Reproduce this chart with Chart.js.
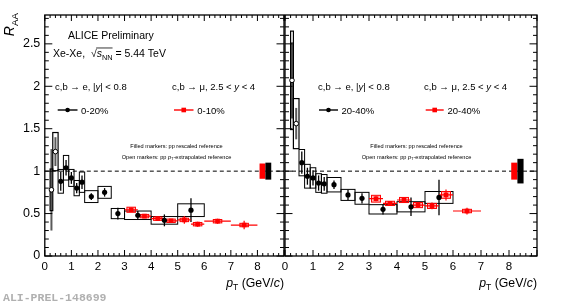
<!DOCTYPE html>
<html lang="en">
<head>
<meta charset="UTF-8" />
<title>RAA Xe-Xe</title>
<script src="https://cdn.jsdelivr.net/npm/chart.js@4.4.1/dist/chart.umd.min.js"></script>
<style>
  body { margin: 0; background: #fff; }
  #wrap { position: relative; width: 566px; height: 305px; }
  canvas { position: absolute; left: 0; top: 0; }
</style>
</head>
<body>
<div id="wrap">
  <canvas id="left" width="566" height="305"></canvas>
  <canvas id="right" width="566" height="305"></canvas>
</div>
<script>
// axis ticks
const xTickLabels = [0, 1, 2, 3, 4, 5, 6, 7, 8];
const yTickLabels = [0, 0.5, 1, 1.5, 2, 2.5];

// heavy-flavour electrons |y|<0.8, bins
const ePt = [0.6, 0.8, 1.0, 1.2, 1.4, 1.75, 2.25, 2.75, 3.5, 4.5, 5.5];
const eLo = [0.5, 0.7, 0.9, 1.1, 1.3, 1.5, 2.0, 2.5, 3.0, 4.0, 5.0];
const eHi = [0.7, 0.9, 1.1, 1.3, 1.5, 2.0, 2.5, 3.0, 4.0, 5.0, 6.0];
// low pT electrons (pT-extrapolated pp reference)
const eOpenPt = [0.25, 0.4];
const eOpenLo = [0.2, 0.3];
const eOpenHi = [0.3, 0.5];

// electrons 0-20%
const e020 = [0.88, 1.04, 0.92, 0.80, 0.87, 0.70, 0.75, 0.50, 0.48, 0.42, 0.54];
const e020Stat = [0.11, 0.09, 0.07, 0.06, 0.08, 0.04, 0.05, 0.07, 0.05, 0.07, 0.14];
const e020Sys = [0.14, 0.145, 0.10, 0.09, 0.12, 0.07, 0.07, 0.06, 0.05, 0.045, 0.075];
const e020Open = [0.78, 1.23];
const e020OpenStat = [0.48, 0.17];
const e020OpenSys = [0.245, 0.225];

// electrons 20-40%
const e2040 = [1.10, 0.94, 0.92, 0.86, 0.85, 0.84, 0.72, 0.68, 0.55, 0.58, 0.69];
const e2040Stat = [0.13, 0.10, 0.09, 0.09, 0.08, 0.05, 0.06, 0.06, 0.06, 0.11, 0.21];
const e2040Sys = [0.155, 0.14, 0.12, 0.11, 0.11, 0.085, 0.065, 0.07, 0.055, 0.06, 0.07];
const e2040Open = [2.07, 1.56];
const e2040OpenStat = [0.45, 0.185];
const e2040OpenSys = [0.58, 0.295];

// heavy-flavour muons 2.5<y<4
const muPt = [3.25, 3.75, 4.25, 4.75, 5.25, 5.75, 6.5, 7.5];
const muLo = [3.0, 3.5, 4.0, 4.5, 5.0, 5.5, 6.0, 7.0];
const muHi = [3.5, 4.0, 4.5, 5.0, 5.5, 6.0, 7.0, 8.0];
const mu010 = [0.545, 0.47, 0.44, 0.415, 0.425, 0.375, 0.41, 0.365];
const mu010Stat = [0.025, 0.02, 0.02, 0.02, 0.045, 0.03, 0.03, 0.05];
const mu010Sys = [0.03, 0.02, 0.02, 0.02, 0.02, 0.02, 0.02, 0.02];
const mu2040 = [0.675, 0.62, 0.66, 0.60, 0.59, 0.72, 0.53];
const mu2040Stat = [0.03, 0.02, 0.025, 0.03, 0.04, 0.065, 0.04];
const mu2040Sys = [0.04, 0.025, 0.03, 0.03, 0.03, 0.04, 0.02];

// normalisation uncertainties [left panel, right panel]
const normUncE = [0.10, 0.145];
const normUncMu = [0.09, 0.10];

const FONT = '"Liberation Sans", Arial, sans-serif';

function pts(xs, ys) { return xs.map((v, i) => ({ x: v, y: ys[i] })); }

// text with italic / subscript pieces
function rich(ctx, x, y, segs, size, align) {
  const parts = segs.map(([t, st]) => {
    st = st || {};
    const sz = st.sub ? size * 0.7 : size;
    const font = (st.i ? 'italic ' : '') + sz + 'px ' + FONT;
    ctx.font = font;
    return { t, st, font, w: ctx.measureText(t).width, dy: st.sub ? size * 0.28 : 0 };
  });
  const total = parts.reduce((s, p) => s + p.w, 0);
  let cx = align === 'right' ? x - total : align === 'center' ? x - total / 2 : x;
  let ox0 = null, ox1 = null;
  ctx.fillStyle = '#000';
  ctx.textBaseline = 'alphabetic';
  ctx.textAlign = 'left';
  for (const p of parts) {
    ctx.font = p.font;
    ctx.fillText(p.t, cx, y + p.dy);
    if (p.st.over) { if (ox0 === null) ox0 = cx; ox1 = cx + p.w; }
    cx += p.w;
  }
  if (ox0 !== null) {
    ctx.strokeStyle = '#000'; ctx.lineWidth = 0.8;
    ctx.beginPath(); ctx.moveTo(ox0 - 0.5, y - size * 0.86); ctx.lineTo(ox1, y - size * 0.86); ctx.stroke();
  }
  return total;
}

function drawFrame(chart) {
  const { ctx, chartArea: a, scales: { x, y } } = chart;
  ctx.save();
  ctx.strokeStyle = '#000';
  ctx.lineWidth = 1;
  ctx.beginPath();
  for (let i = 0; i <= 45; i++) {
    const px = x.getPixelForValue(i * 0.2);
    const L = i % 5 === 0 ? 6 : 3;
    ctx.moveTo(px, a.bottom); ctx.lineTo(px, a.bottom - L);
    ctx.moveTo(px, a.top); ctx.lineTo(px, a.top + L);
  }
  for (let i = 0; i * 0.1 <= y.max + 1e-6; i++) {
    const py = y.getPixelForValue(i * 0.1);
    const L = i % 5 === 0 ? 7.5 : 4;
    ctx.moveTo(a.left, py); ctx.lineTo(a.left + L, py);
    ctx.moveTo(a.right, py); ctx.lineTo(a.right - L, py);
  }
  ctx.stroke();
  ctx.lineWidth = 1.3;
  ctx.strokeRect(a.left, a.top, a.right - a.left, a.bottom - a.top);
  ctx.restore();
}

function makePlugin(panel) {
  return {
    id: 'rootStyle' + panel.side,
    beforeDatasetsDraw(chart) {
      const { ctx, chartArea: a, scales: { x, y } } = chart;
      ctx.save();
      // reference line
      ctx.strokeStyle = '#000'; ctx.lineWidth = 1; ctx.setLineDash([4, 3]);
      ctx.beginPath(); ctx.moveTo(a.left, y.getPixelForValue(1)); ctx.lineTo(a.right, y.getPixelForValue(1)); ctx.stroke();
      ctx.setLineDash([]);
      // normalisation boxes
      const k = panel.side === 'left' ? 0 : 1;
      ctx.fillStyle = '#ff0000';
      ctx.fillRect(x.getPixelForValue(8.08), y.getPixelForValue(1 + normUncMu[k]),
        x.getPixelForValue(8.3) - x.getPixelForValue(8.08), y.getPixelForValue(1 - normUncMu[k]) - y.getPixelForValue(1 + normUncMu[k]));
      ctx.fillStyle = '#000';
      ctx.fillRect(x.getPixelForValue(8.3), y.getPixelForValue(1 + normUncE[k]),
        x.getPixelForValue(8.52) - x.getPixelForValue(8.3), y.getPixelForValue(1 - normUncE[k]) - y.getPixelForValue(1 + normUncE[k]));

      chart.data.datasets.forEach(ds => {
        ds.data.forEach((p, i) => {
          const px = x.getPixelForValue(p.x);
          const yHi = y.getPixelForValue(p.y + ds.sys[i]);
          const yLo = y.getPixelForValue(p.y - ds.sys[i]);
          if (ds.kind === 'mu') {
            const bx0 = x.getPixelForValue(p.x - 0.16), bx1 = x.getPixelForValue(p.x + 0.16);
            ctx.fillStyle = 'rgba(255,0,0,0.25)';
            ctx.fillRect(bx0, yHi, bx1 - bx0, yLo - yHi);
            ctx.strokeStyle = '#ff0000'; ctx.lineWidth = 1;
            ctx.strokeRect(bx0, yHi, bx1 - bx0, yLo - yHi);
            ctx.lineWidth = 1.2;
            ctx.beginPath();
            ctx.moveTo(x.getPixelForValue(ds.lo[i]), y.getPixelForValue(p.y));
            ctx.lineTo(x.getPixelForValue(ds.hi[i]), y.getPixelForValue(p.y));
            ctx.moveTo(px, y.getPixelForValue(p.y - ds.stat[i]));
            ctx.lineTo(px, y.getPixelForValue(p.y + ds.stat[i]));
            ctx.stroke();
          } else {
            const bx0 = x.getPixelForValue(ds.lo[i]), bx1 = x.getPixelForValue(ds.hi[i]);
            ctx.strokeStyle = ds.kind === 'open' ? '#5a5a5a' : '#000';
            ctx.lineWidth = ds.kind === 'open' ? 2 : 1.3;
            ctx.beginPath();
            ctx.moveTo(px, y.getPixelForValue(Math.max(0, p.y - ds.stat[i])));
            ctx.lineTo(px, y.getPixelForValue(p.y + ds.stat[i]));
            ctx.stroke();
            ctx.strokeStyle = '#000'; ctx.lineWidth = ds.kind === 'open' ? 1.2 : 1;
            ctx.strokeRect(bx0, yHi, bx1 - bx0, yLo - yHi);
          }
        });
      });
      ctx.restore();
    },
    afterDraw(chart) {
      const { ctx } = chart;
      drawFrame(chart);
      ctx.save();
      const t = panel.text;
      rich(ctx, t.eX, 90, [['c,b \u2192 e, |'], ['y', { i: 1 }], ['| < 0.8']], 9.5);
      rich(ctx, t.muX, 90, [['c,b \u2192 \u03bc, 2.5 < '], ['y', { i: 1 }], [' < 4']], 9.5);
      // legend entries
      ctx.strokeStyle = '#000'; ctx.lineWidth = 1.4;
      ctx.beginPath(); ctx.moveTo(t.eLeg[0], 110); ctx.lineTo(t.eLeg[1], 110); ctx.stroke();
      ctx.fillStyle = '#000';
      ctx.beginPath(); ctx.arc((t.eLeg[0] + t.eLeg[1]) / 2, 110, 2.3, 0, Math.PI * 2); ctx.fill();
      rich(ctx, t.eLeg[1] + 3.5, 113.5, [[t.eLabel]], 9.5);
      ctx.strokeStyle = '#ff0000';
      ctx.beginPath(); ctx.moveTo(t.muLeg[0], 110); ctx.lineTo(t.muLeg[1], 110); ctx.stroke();
      ctx.fillStyle = '#ff0000';
      const mx = (t.muLeg[0] + t.muLeg[1]) / 2;
      ctx.fillRect(mx - 2.3, 107.7, 4.6, 4.6);
      rich(ctx, t.muLeg[1] + 3.8, 113.5, [[t.muLabel]], 9.5);
      // reference notes
      rich(ctx, t.noteX, 147.5, [['Filled markers: pp rescaled reference']], 5.6, 'center');
      rich(ctx, t.noteX, 158.5, [['Open markers: pp '], ['p', { i: 1 }], ['T', { sub: 1 }], ['-extrapolated reference']], 5.6, 'center');
      // x title
      rich(ctx, chart.chartArea.right, 286.5, [['p', { i: 1 }], ['T', { sub: 1 }], [' (GeV/'], ['c', { i: 1 }], [')']], 12.3, 'right');
      if (panel.side === 'left') {
        rich(ctx, 68, 38.5, [['ALICE Preliminary']], 10.5);
        rich(ctx, 53, 57, [['Xe-Xe,  '], ['\u221a'], ['s', { i: 1, over: 1 }], ['NN', { sub: 1, over: 1 }], [' = 5.44 TeV']], 10.5);
        ctx.save();
        ctx.translate(14, 13);
        ctx.rotate(-Math.PI / 2);
        rich(ctx, 0, 0, [['R', { i: 1 }], ['AA', { sub: 1 }]], 14, 'right');
        ctx.restore();
        ctx.font = 'bold 11.5px "Liberation Mono", monospace';
        ctx.fillStyle = '#b0b0b0';
        ctx.textAlign = 'left';
        ctx.fillText('ALI-PREL-148699', 3, 301);
      }
      ctx.restore();
    }
  };
}

function eDatasets(filled, filledStat, filledSys, open, openStat, openSys) {
  return [
    { kind: 'filled', data: pts(ePt, filled), stat: filledStat, sys: filledSys, lo: eLo, hi: eHi,
      pointStyle: 'circle', pointRadius: 2.6, backgroundColor: '#000', borderColor: '#000', borderWidth: 0, showLine: false },
    { kind: 'open', data: pts(eOpenPt, open), stat: openStat, sys: openSys, lo: eOpenLo, hi: eOpenHi,
      pointStyle: 'circle', pointRadius: 2.3, backgroundColor: '#fff', borderColor: '#000', borderWidth: 1, showLine: false }
  ];
}

function muDataset(vals, stat, sys) {
  const n = vals.length;
  return { kind: 'mu', data: pts(muPt.slice(0, n), vals), stat, sys, lo: muLo.slice(0, n), hi: muHi.slice(0, n),
    pointStyle: 'rect', pointRadius: 3.3, backgroundColor: '#ff0000', borderColor: '#ff0000', borderWidth: 0, showLine: false };
}

function panelOptions(isLeft) {
  return {
    responsive: false,
    animation: false,
    events: [],
    layout: { padding: isLeft ? { left: 0, right: 282, top: 15, bottom: 0 } : { left: 285, right: 29, top: 15, bottom: 0 } },
    plugins: { legend: { display: false }, tooltip: { enabled: false } },
    scales: {
      x: {
        type: 'linear', min: 0, max: 9,
        grid: { display: false, drawTicks: false }, border: { display: false },
        afterBuildTicks: s => { s.ticks = xTickLabels.map(v => ({ value: v })); },
        afterFit: s => { s.height = 49; },
        ticks: { font: { family: FONT, size: 11.5 }, color: '#000', padding: 4, maxRotation: 0, autoSkip: false,
          callback: v => String(v) }
      },
      y: {
        type: 'linear', min: 0, max: 2.84, display: isLeft,
        grid: { display: false, drawTicks: false }, border: { display: false },
        afterBuildTicks: s => { s.ticks = yTickLabels.map(v => ({ value: v })); },
        afterFit: s => { if (isLeft) s.width = 44.8; },
        ticks: { font: { family: FONT, size: 12.5 }, color: '#000', padding: 4.5, autoSkip: false,
          callback: v => String(v) }
      }
    }
  };
}

new Chart(document.getElementById('left'), {
  type: 'scatter',
  data: { datasets: [...eDatasets(e020, e020Stat, e020Sys, e020Open, e020OpenStat, e020OpenSys), muDataset(mu010, mu010Stat, mu010Sys)] },
  options: panelOptions(true),
  plugins: [makePlugin({ side: 'left', text: { eX: 55, muX: 172, eLeg: [57.7, 77.5], muLeg: [174, 193.5],
    eLabel: '0-20%', muLabel: '0-10%', noteX: 176.5 } })]
});

new Chart(document.getElementById('right'), {
  type: 'scatter',
  data: { datasets: [...eDatasets(e2040, e2040Stat, e2040Sys, e2040Open, e2040OpenStat, e2040OpenSys), muDataset(mu2040, mu2040Stat, mu2040Sys)] },
  options: panelOptions(false),
  plugins: [makePlugin({ side: 'right', text: { eX: 318, muX: 424, eLeg: [319, 338], muLeg: [425.7, 443.7],
    eLabel: '20-40%', muLabel: '20-40%', noteX: 416.5 } })]
});
</script>
</body>
</html>
